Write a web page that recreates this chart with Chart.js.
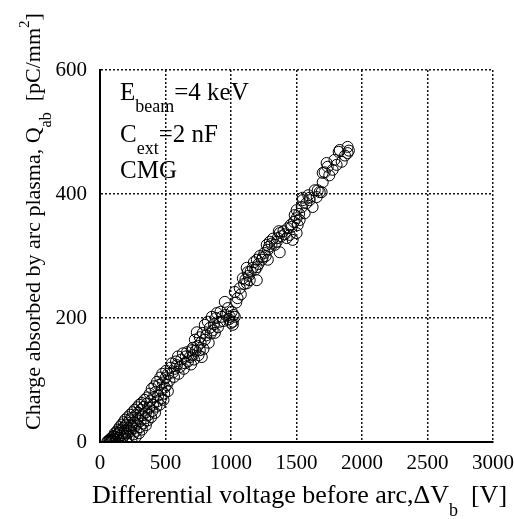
<!DOCTYPE html>
<html>
<head>
<meta charset="utf-8">
<script src="https://cdn.jsdelivr.net/npm/chart.js@4.4.0/dist/chart.umd.min.js"></script>
<style>
  html, body { margin: 0; padding: 0; background: #fff; }
  #wrap { width: 514px; height: 519px; }
</style>
</head>
<body>
<div id="wrap"><canvas id="chart1"></canvas></div>
<script>
// differential voltage before arc, dVb [V]
var voltage = [55,62,70,75,80,85,90,95,100,105,110,112,118,120,125,130,132,138,140,145,150,152,158,160,165,170,172,178,180,185,190,192,198,200,205,210,212,218,220,225,230,232,238,240,245,250,252,258,260,265,270,272,278,280,285,290,292,298,300,305,310,312,318,320,325,330,335,340,345,350,352,358,360,365,370,375,380,385,390,395,400,405,410,415,420,425,430,435,440,445,450,455,460,465,470,475,480,485,490,495,500,505,510,518,520,530,540,549,555,565,570,580,587,595,600,610,620,633,640,648,655,665,672,686,695,700,709,709,718,724,730,739,745,752,762,762,768,777,785,790,800,800,812,823,830,838,845,854,860,870,877,885,892,900,915,920,930,940,953,960,976,985,991,1000,1006,1014,1014,1020,1029,1029,1040,1050,1067,1075,1090,1100,1110,1120,1120,1128,1135,1143,1150,1166,1175,1185,1197,1197,1197,1210,1220,1235,1242,1255,1265,1273,1281,1281,1290,1296,1310,1320,1335,1349,1357,1365,1372,1372,1385,1400,1410,1425,1435,1448,1455,1463,1471,1480,1486,1501,1501,1501,1509,1520,1524,1540,1547,1547,1562,1575,1590,1600,1600,1623,1639,1654,1662,1677,1692,1700,1700,1715,1730,1738,1750,1776,1790,1806,1822,1830,1845,1870,1890,1890,1900];
// charge absorbed by arc plasma, Qab [pC/mm2]
var charge = [0,2,1,4,0,6,3,8,2,10,5,14,0,8,16,4,12,20,7,15,24,2,10,19,28,6,14,23,32,10,18,36,27,5,14,31,40,22,9,35,44,17,27,3,39,48,12,22,32,52,43,8,18,28,56,38,47,14,60,24,34,52,63,20,43,30,57,68,38,27,48,62,72,35,44,55,78,66,40,86,50,60,72,90,47,81,57,97,66,75,92,60,104,70,84,110,96,68,78,88,103,115,92,82,110,99,120,127,112,105,118,130,124,138,110,121,133,143,118,127,138,145,130,137,125,148,140,152,133,165,147,177,155,140,169,148,160,137,176,150,165,189,172,194,160,184,175,202,180,190,176,200,208,185,194,210,202,195,226,205,216,198,202,192,210,194,189,205,202,242,225,232,248,238,264,255,262,256,281,274,268,261,275,281,290,278,261,282,294,287,300,294,298,305,300,318,310,294,315,323,320,328,318,323,329,340,337,306,332,340,335,329,345,334,350,347,326,355,366,374,361,337,350,368,358,379,390,394,369,385,398,390,394,379,406,395,406,403,403,419,434,435,450,444,430,439,455,447,468,471,452,462,476,466,470];

var xTicks = [0, 500, 1000, 1500, 2000, 2500, 3000];
var yTicks = [0, 200, 400, 600];

var serif = "'Liberation Serif', 'Times New Roman', serif";

// draw a line of text made of pieces with sub/superscripts
function drawRich(ctx, parts, x, y) {
  var cx = x;
  parts.forEach(function(p){
    ctx.font = p.size + "px " + serif;
    ctx.fillText(p.t, cx, y + (p.dy || 0));
    cx += ctx.measureText(p.t).width;
  });
}

var labelsPlugin = {
  id: 'labelsPlugin',
  afterDraw: function(chart) {
    var ctx = chart.ctx;
    ctx.save();
    ctx.fillStyle = '#000';
    ctx.textBaseline = 'alphabetic';
    ctx.textAlign = 'left';

    // inset notes
    drawRich(ctx, [{t:'E', size:25}, {t:'beam', size:18, dy:12}, {t:'=4 keV', size:25}], 120, 100);
    drawRich(ctx, [{t:'C', size:25}, {t:'ext', size:18, dy:12}, {t:'=2 nF', size:25}], 120, 142);
    drawRich(ctx, [{t:'CMG', size:25}], 120, 178);

    // x axis title
    drawRich(ctx, [{t:'Differential voltage before arc,\u0394V', size:26}, {t:'b', size:18, dy:13}, {t:'  [V]', size:26}], 92, 503);

    // y axis title
    ctx.translate(40, 430);
    ctx.rotate(-Math.PI / 2);
    drawRich(ctx, [{t:'Charge absorbed by arc plasma, Q', size:22}, {t:'ab', size:16, dy:11}, {t:'  [pC/mm', size:22}, {t:'2', size:15, dy:-11}, {t:']', size:22}], 0, 0);
    ctx.restore();
  }
};

var ctx1 = document.getElementById("chart1").getContext('2d');
var points = voltage.map(function(v, i){ return {x: v, y: charge[i]}; });

var chart1 = new Chart(ctx1, {
  type: 'scatter',
  data: {
    datasets: [{
      data: points,
      pointStyle: 'circle',
      pointRadius: 5.5,
      pointBorderWidth: 1,
      borderColor: '#000',
      backgroundColor: 'rgba(0,0,0,0)'
    }]
  },
  options: {
    responsive: true,
    maintainAspectRatio: false,
    animation: false,
    events: [],
    layout: { padding: { left: 0, top: 70, right: 21, bottom: 0 } },
    plugins: { legend: { display: false }, tooltip: { enabled: false } },
    scales: {
      x: {
        type: 'linear', min: 0, max: 3000,
        afterFit: function(s){ s.height = 77; s.paddingLeft = 0; s.paddingRight = 0; },
        afterBuildTicks: function(s){ s.ticks = xTicks.map(function(v){ return {value: v}; }); },
        border: { display: true, color: '#000', width: 2, dash: [2, 2] },
        grid: { color: '#111', lineWidth: 1.5, drawTicks: false },
        ticks: { color: '#000', padding: 9, maxRotation: 0, font: { family: serif, size: 21 },
                 callback: function(v){ return String(v); } }
      },
      y: {
        type: 'linear', min: 0, max: 600,
        afterFit: function(s){ s.width = 100; s.paddingTop = 0; s.paddingBottom = 0; },
        afterBuildTicks: function(s){ s.ticks = yTicks.map(function(v){ return {value: v}; }); },
        border: { display: true, color: '#000', width: 2, dash: [2, 2] },
        grid: { color: '#111', lineWidth: 1.5, drawTicks: false },
        ticks: { color: '#000', padding: 13, font: { family: serif, size: 21 },
                 callback: function(v){ return String(v); } }
      }
    }
  },
  plugins: [labelsPlugin]
});
</script>
</body>
</html>
